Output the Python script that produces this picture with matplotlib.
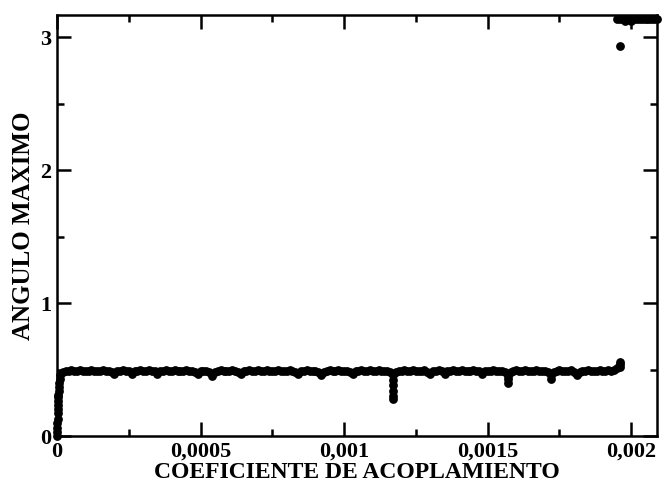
import numpy as np
import matplotlib
matplotlib.use('Agg')
import matplotlib.pyplot as plt
from matplotlib.ticker import MultipleLocator, FuncFormatter

plt.rcParams["font.family"] = ["Liberation Serif", "DejaVu Serif"]
plt.rcParams["font.weight"] = "bold"

# subida inicial (acoplamiento muy pequeño)
rise_x = [0.0, 0.5e-6, 1.0e-6, 1.5e-6, 2.0e-6, 2.5e-6, 3.0e-6, 3.5e-6,
          4.0e-6, 4.5e-6, 5.0e-6, 6.0e-6, 7.0e-6, 8.0e-6, 9.0e-6]
rise_y = [0.0, 0.03, 0.06, 0.10, 0.13, 0.17, 0.20, 0.23,
          0.26, 0.29, 0.31, 0.34, 0.37, 0.40, 0.43]

# barrido principal: 0.00001 ... 0.00196, paso 0.00001
scan_start, scan_step, scan_n = 1e-5, 1e-5, 196
scan_x = np.round(scan_start + scan_step * np.arange(scan_n), 7)
scan_y = [
    0.46, 0.48, 0.49, 0.49, 0.50, 0.49, 0.49, 0.50, 0.49, 0.49,
    0.49, 0.50, 0.49, 0.49, 0.49, 0.50, 0.49, 0.49, 0.48, 0.47,
    0.49, 0.49, 0.50, 0.49, 0.49, 0.47, 0.49, 0.49, 0.50, 0.49,
    0.49, 0.50, 0.49, 0.49, 0.47, 0.49, 0.49, 0.50, 0.49, 0.49,
    0.50, 0.49, 0.49, 0.49, 0.50, 0.49, 0.49, 0.48, 0.47, 0.49,
    0.49, 0.49, 0.48, 0.455, 0.48, 0.49, 0.50, 0.49, 0.49, 0.49,
    0.50, 0.49, 0.48, 0.47, 0.49, 0.49, 0.50, 0.49, 0.49, 0.50,
    0.49, 0.49, 0.50, 0.49, 0.49, 0.49, 0.50, 0.49, 0.49, 0.49,
    0.50, 0.49, 0.48, 0.47, 0.49, 0.49, 0.50, 0.49, 0.49, 0.49,
    0.48, 0.46, 0.48, 0.49, 0.50, 0.49, 0.49, 0.50, 0.49, 0.49,
    0.49, 0.48, 0.47, 0.49, 0.49, 0.50, 0.49, 0.49, 0.50, 0.49,
    0.49, 0.50, 0.49, 0.49, 0.49, 0.48, 0.46, 0.48, 0.49, 0.49,
    0.50, 0.49, 0.49, 0.50, 0.49, 0.49, 0.49, 0.50, 0.48, 0.47,
    0.49, 0.49, 0.50, 0.49, 0.47, 0.49, 0.49, 0.50, 0.49, 0.49,
    0.50, 0.49, 0.49, 0.49, 0.50, 0.49, 0.49, 0.47, 0.49, 0.49,
    0.49, 0.50, 0.49, 0.49, 0.49, 0.48, 0.45, 0.48, 0.49, 0.50,
    0.49, 0.49, 0.50, 0.49, 0.49, 0.49, 0.50, 0.49, 0.49, 0.49,
    0.48, 0.43, 0.48, 0.49, 0.50, 0.49, 0.49, 0.49, 0.50, 0.48,
    0.46, 0.48, 0.49, 0.49, 0.50, 0.49, 0.49, 0.49, 0.50, 0.49,
    0.49, 0.50, 0.49, 0.50, 0.51, 0.52,
]

# puntos extra en las caidas y en el final de la rama baja
dip_x = [0.00117, 0.00117, 0.00117, 0.00117, 0.00117,
         0.00157, 0.00157, 0.00172, 0.00196, 0.00196]
dip_y = [0.42, 0.38, 0.34, 0.30, 0.275,
         0.43, 0.395, 0.46, 0.545, 0.56]

# rama alta (~pi)
high_x = [0.00195, 0.00196, 0.00197, 0.00198, 0.00199, 0.00200, 0.00201,
          0.00202, 0.00203, 0.00204, 0.00205, 0.00206, 0.00207, 0.00208,
          0.00209, 0.001962]
high_y = [3.14, 3.14, 3.14, 3.12, 3.14, 3.12, 3.14,
          3.14, 3.14, 3.14, 3.14, 3.14, 3.14, 3.14,
          3.14, 2.935]

all_x = np.concatenate([rise_x, scan_x, dip_x, high_x])
all_y = np.concatenate([rise_y, scan_y, dip_y, high_y])

fig = plt.figure(figsize=(6.63, 4.91), dpi=100)
ax = fig.add_axes([0.086, 0.112, 0.905, 0.857])

ax.scatter(all_x, all_y, s=40, c='black', linewidths=0, clip_on=False, zorder=3)

ax.set_xlim(0, 0.00209)
ax.set_ylim(0, 3.165)

ax.xaxis.set_major_locator(MultipleLocator(0.0005))
ax.xaxis.set_minor_locator(MultipleLocator(0.00025))
ax.yaxis.set_major_locator(MultipleLocator(1))
ax.yaxis.set_minor_locator(MultipleLocator(0.5))

def coma(v, pos):
    return ('%g' % round(v, 6)).replace('.', ',')

ax.xaxis.set_major_formatter(FuncFormatter(coma))
ax.yaxis.set_major_formatter(FuncFormatter(coma))

ax.tick_params(which='both', direction='in', top=True, right=True, width=1.8,
               labelsize=16)
ax.tick_params(which='major', length=10, pad=4)
ax.tick_params(which='minor', length=5)
for s in ax.spines.values():
    s.set_linewidth(1.8)

ax.set_xlabel('COEFICIENTE DE ACOPLAMIENTO', fontsize=17, fontweight='bold', labelpad=0)
ax.set_ylabel('ANGULO MAXIMO', fontsize=18, fontweight='bold', labelpad=4)

fig.savefig('out.png', dpi=100)
